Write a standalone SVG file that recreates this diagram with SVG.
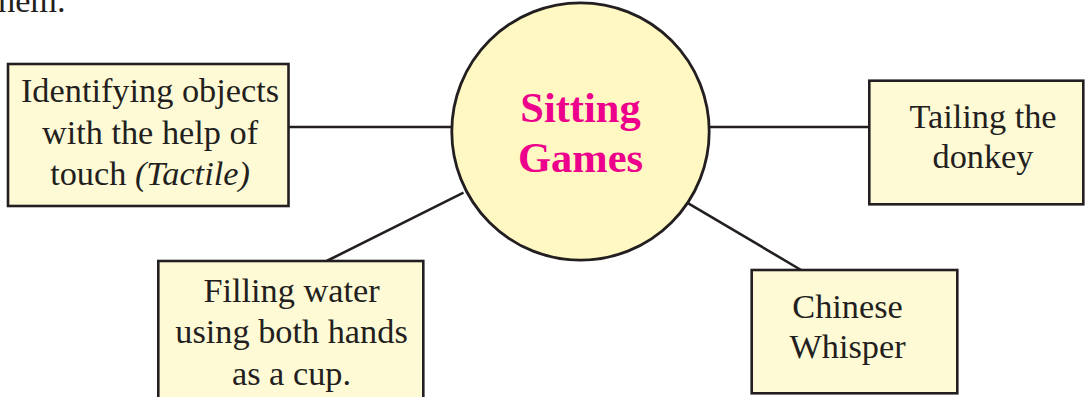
<svg xmlns="http://www.w3.org/2000/svg" width="1085" height="397" viewBox="0 0 1085 397">
<style>
.box{fill:#fffad6;stroke:#231f20;stroke-width:2.6}
.hub{fill:#fff8c2;stroke:#231f20;stroke-width:2.8}
.t{font-family:"Liberation Serif","Times New Roman",serif;font-size:34.3px;fill:#231f20;text-anchor:middle}
.h{font-family:"Liberation Serif","Times New Roman",serif;font-size:42.5px;font-weight:bold;fill:#ec008c;text-anchor:middle}
.c{stroke:#231f20;stroke-width:2.6;fill:none}
</style>
<rect width="1085" height="397" fill="#ffffff"/>
<text class="t" x="-2" y="12" style="text-anchor:start">hem.</text>
<g id="connectors">
<line class="c" x1="289" y1="127" x2="452" y2="127"/>
<line class="c" x1="709" y1="127" x2="869" y2="127"/>
<line class="c" x1="463.5" y1="192.7" x2="326.7" y2="261"/>
<line class="c" x1="688.3" y1="203.3" x2="801" y2="270"/>
</g>
<g id="hub">
<circle class="hub" cx="580.5" cy="131.5" r="128.7"/>
<text class="h" x="580.5" y="122">Sitting</text>
<text class="h" x="580.5" y="172">Games</text>
</g>
<g id="tactile">
<rect class="box" x="8" y="64" width="280.5" height="142"/>
<text class="t" x="150" y="102">Identifying objects</text>
<text class="t" x="150" y="143.5">with the help of</text>
<text class="t" x="150" y="185">touch <tspan font-style="italic">(Tactile)</tspan></text>
</g>
<g id="tailing">
<rect class="box" x="869.3" y="80.7" width="214" height="123.6"/>
<text class="t" x="983" y="128.3">Tailing the</text>
<text class="t" x="983" y="168.3">donkey</text>
</g>
<g id="filling">
<rect class="box" x="158.3" y="261" width="265" height="150"/>
<text class="t" x="291.5" y="301.7">Filling water</text>
<text class="t" x="291.5" y="343.3">using both hands</text>
<text class="t" x="291.5" y="385">as a cup.</text>
</g>
<g id="chinese">
<rect class="box" x="751.7" y="270" width="205.6" height="123.3"/>
<text class="t" x="847.5" y="318">Chinese</text>
<text class="t" x="847.5" y="358">Whisper</text>
</g>
</svg>
